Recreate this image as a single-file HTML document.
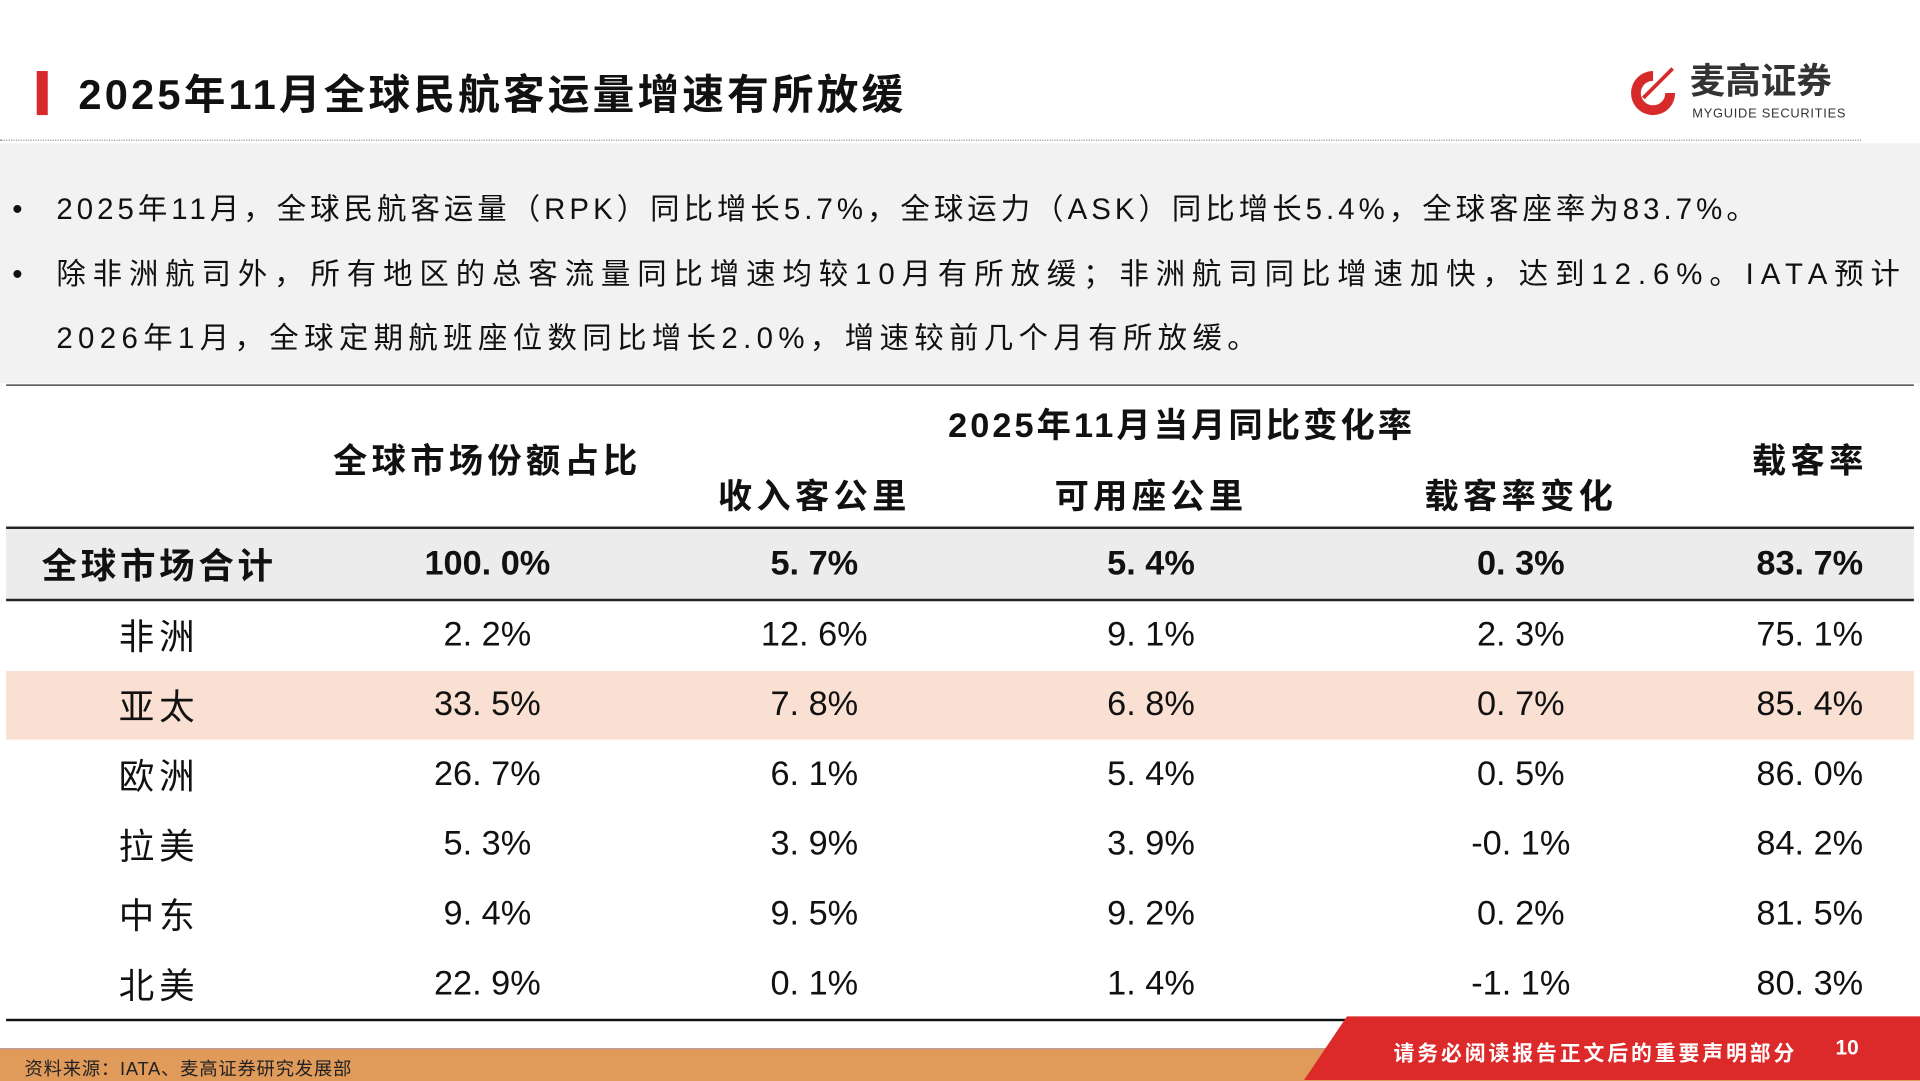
<!DOCTYPE html>
<html><head><meta charset="utf-8">
<style>
html,body{margin:0;padding:0;width:1920px;height:1080px;overflow:hidden;background:#fff}
#s{position:absolute;left:0;top:0;width:1568px;height:882px;transform:scale(1.22449);transform-origin:0 0;font-family:"Liberation Sans","Noto Sans CJK SC",sans-serif;color:#111}
.a{position:absolute;white-space:nowrap}
.c{position:absolute;transform:translateX(-50%);white-space:nowrap;font-size:28px;letter-spacing:0px}
.h{font-weight:bold}
.hd{letter-spacing:3.5px;font-size:28px}
</style></head><body>
<div id="s">
<div class="a" style="left:30px;top:58px;width:9px;height:36px;background:#d72b2b"></div>
<div class="a" style="left:64px;top:56px;font-size:34px;font-weight:bold;line-height:44px;letter-spacing:2.6px">2025年11月全球民航客运量增速有所放缓</div>
<div class="a" style="left:1328px;top:52px;width:190px;height:48px">
<svg width="44" height="46" viewBox="0 0 44 46" style="position:absolute;left:0;top:0"><path d="M22 6 A18 18 0 1 0 40 24 L32 24 A10 10 0 1 1 22 14 Z" fill="#d72b2b"/><path d="M14 28 L38 4" stroke="#d72b2b" stroke-width="3"/></svg>
<div class="a" style="left:52px;top:-2px;font-size:29px;font-weight:bold;color:#333;line-height:34px">麦高证券</div>
<div class="a" style="left:54px;top:35px;font-size:10.5px;color:#333;letter-spacing:.6px;line-height:12px">MYGUIDE SECURITIES</div>
</div>
<div class="a" style="left:0;top:114px;width:1520px;border-top:1px dotted #999"></div>
<div class="a" style="left:0;top:117px;width:1568px;height:196px;background:#f2f2f2"></div>
<div class="a" style="left:10px;top:155px;font-size:24px;line-height:34px">•</div>
<div class="a" style="left:46px;top:155px;font-size:24px;line-height:34px;letter-spacing:3.3px">2025年11月，全球民航客运量（RPK）同比增长5.7%，全球运力（ASK）同比增长5.4%，全球客座率为83.7%。</div>
<div class="a" style="left:10px;top:208px;font-size:24px;line-height:34px">•</div>
<div class="a" style="left:46px;top:208px;font-size:24px;line-height:34px;letter-spacing:5.65px">除非洲航司外，所有地区的总客流量同比增速均较10月有所放缓；非洲航司同比增速加快，达到12.6%。IATA预计</div>
<div class="a" style="left:46px;top:260px;font-size:24px;line-height:34px;letter-spacing:4.4px">2026年1月，全球定期航班座位数同比增长2.0%，增速较前几个月有所放缓。</div>
<div class="a" style="left:5px;top:314px;width:1558px;border-top:1.5px solid #222"></div>
<div class="c h hd" style="left:398px;top:355px">全球市场份额占比</div>
<div class="c h hd" style="left:965px;top:326px;letter-spacing:2.5px">2025年11月当月同比变化率</div>
<div class="c h hd" style="left:665px;top:384px">收入客公里</div>
<div class="c h hd" style="left:940px;top:384px">可用座公里</div>
<div class="c h hd" style="left:1242px;top:384px">载客率变化</div>
<div class="c h hd" style="left:1478px;top:355px">载客率</div>
<div class="a" style="left:5px;top:432px;width:1558px;height:58px;background:#ececec"></div>
<div class="a" style="left:5px;top:548px;width:1558px;height:56px;background:#fae0d3"></div>
<div class="a" style="left:5px;top:430px;width:1558px;border-top:2px solid #222"></div>
<div class="a" style="left:5px;top:489px;width:1558px;border-top:2px solid #222"></div>
<div class="a" style="left:5px;top:832px;width:1558px;border-top:2px solid #111"></div>
<div id="rows"></div>
<div class="a" style="left:0;top:856px;width:1568px;height:26px;background:#e09a5a;border-top:1px solid #b99"></div>
<svg class="a" style="left:0;top:0" width="1568" height="882"><polygon points="1100,830 1568,830 1568,882 1065,882" fill="#dc2a2a"/></svg>
<div class="a" style="left:1138px;top:846px;font-size:17px;color:#fff;font-weight:bold;letter-spacing:2.4px">请务必阅读报告正文后的重要声明部分</div>
<div class="a" style="left:1499px;top:846px;font-size:17px;color:#fff;font-weight:bold">10</div>
<div class="a" style="left:20px;top:862px;font-size:15px;color:#222;letter-spacing:.6px">资料来源：IATA、麦高证券研究发展部</div>
</div>
<script>
const regions=["全球市场合计","非洲","亚太","欧洲","拉美","中东","北美"];
const share=["100.0%","2.2%","33.5%","26.7%","5.3%","9.4%","22.9%"];
const rpk=["5.7%","12.6%","7.8%","6.1%","3.9%","9.5%","0.1%"];
const ask=["5.4%","9.1%","6.8%","5.4%","3.9%","9.2%","1.4%"];
const lfChange=["0.3%","2.3%","0.7%","0.5%","-0.1%","0.2%","-1.1%"];
const lf=["83.7%","75.1%","85.4%","86.0%","84.2%","81.5%","80.3%"];
const cols=[share,rpk,ask,lfChange,lf];
const colX=[398,665,940,1242,1478];
const colNames=['share','rpk','ask','lf-change','load-factor'];
const host=document.getElementById('rows');
regions.forEach((r,i)=>{
  const y=i===0?444:502+(i-1)*57;
  const lab=document.createElement('div');
  lab.className='c'+(i===0?' h':'');
  lab.style.left='130px';lab.style.top=(y-5)+'px';
  lab.style.fontSize='29px';
  lab.style.letterSpacing=i===0?'3px':'4px';
  lab.textContent=r;
  
  
  host.appendChild(lab);
  cols.forEach((c,j)=>{
    const d=document.createElement('div');
    d.className='c'+(i===0?' h':'');
    d.style.left=colX[j]+'px';d.style.top=y+'px';
    d.textContent=c[i].replace('.','. ');
    
    
    host.appendChild(d);
  });
});
</script>
</body></html>
